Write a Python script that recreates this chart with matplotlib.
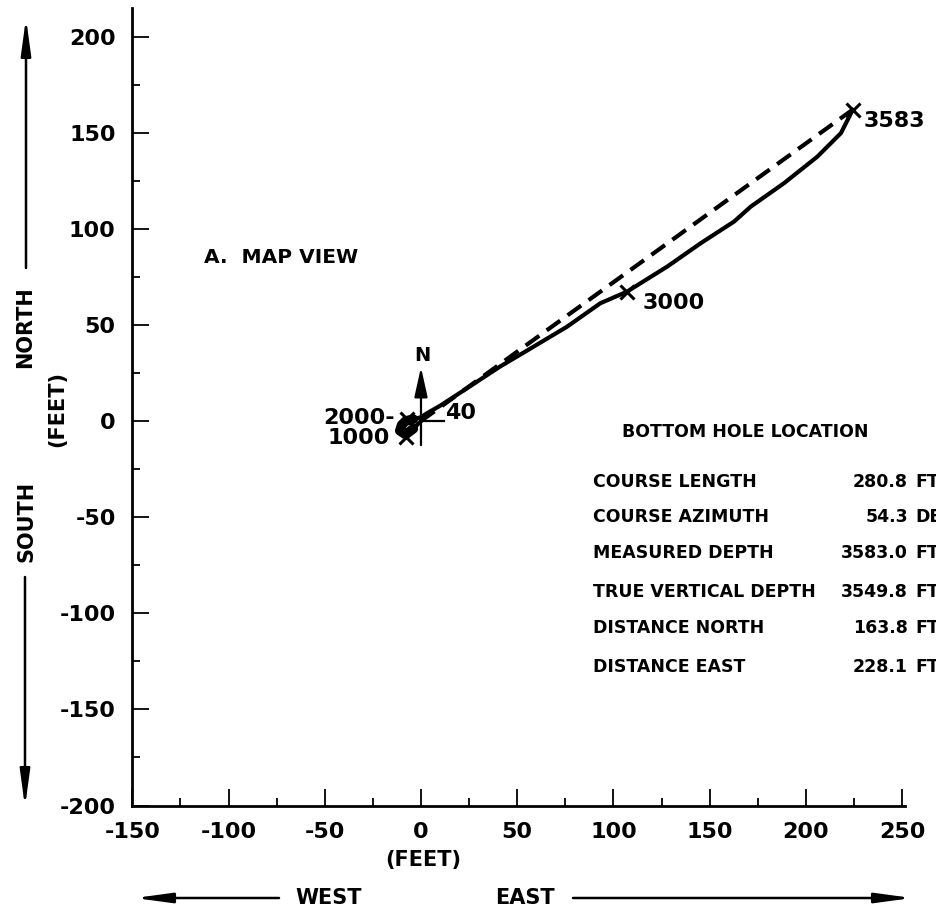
import numpy as np
import matplotlib
matplotlib.use('Agg')
from matplotlib import pyplot as plt
from matplotlib.ticker import MultipleLocator

plt.rcParams['font.family'] = 'DejaVu Sans'
plt.rcParams['font.weight'] = 'bold'
plt.rcParams['axes.unicode_minus'] = False

# well path (map view), feet east / north of the wellhead
path_east = [0, -4, -8, -11, -10, -8, -4, 0, 3, 10, 23.8, 41, 58.5, 75.9, 93.2,
             107, 128, 145.3, 162.7, 171.4, 188.7, 206, 218.2, 222.6, 224.3]
path_north = [0, -4, -7, -5, -2, 0, 1, 2, 4, 8, 17, 28.3, 38.7, 49.1, 61.3,
              67.3, 80.4, 92.5, 103.8, 111.6, 123.8, 137.6, 149.8, 158.5, 162]

# straight course line from the wellhead to the bottom hole
course_east = [0, 224.3]
course_north = [0, 162]

# depth marks along the path
mark_depth = ['1000', '2000', '3000', '3583']
mark_east = [-7.8, -7.4, 107, 224.3]
mark_north = [-8.2, 0.9, 67.3, 162]

# bottom hole table
bh_names = ['COURSE LENGTH', 'COURSE AZIMUTH', 'MEASURED DEPTH',
            'TRUE VERTICAL DEPTH', 'DISTANCE NORTH', 'DISTANCE EAST']
bh_values = ['280.8', '54.3', '3583.0', '3549.8', '163.8', '228.1']
bh_units = ['FT', 'DEG', 'FT', 'FT', 'FT', 'FT']

W, H = 936, 916
fig = plt.figure(figsize=(W / 100, H / 100), dpi=100)
ax = fig.add_axes([132.3 / W, 1 - 805.5 / H, (905 - 132.3) / W, (805.5 - 8) / H])

ax.plot(path_east, path_north, color='black', lw=3, solid_capstyle='round')
ax.plot(path_east[1:7], path_north[1:7], color='black', lw=7, solid_capstyle='round')
ax.plot(course_east, course_north, color='black', lw=3, dashes=(4, 2.2))
ax.plot(mark_east, mark_north, ls='none', marker='x', ms=10, mew=2.2, color='black')

# depth labels
ax.text(-13.5, 1.4, mark_depth[1] + '-', ha='right', va='center', fontsize=16)
ax.text(-16, -9, mark_depth[0], ha='right', va='center', fontsize=16)
ax.text(115, 61.5, mark_depth[2], ha='left', va='center', fontsize=16)
ax.text(230, 156, mark_depth[3], ha='left', va='center', fontsize=16, clip_on=False)

# north arrow at the wellhead
ax.annotate('', xy=(0, 28), xytext=(0, -12.5),
            arrowprops=dict(arrowstyle='-|>,head_length=0.9,head_width=0.2',
                            color='black', lw=1.6, mutation_scale=20,
                            shrinkA=0, shrinkB=0))
ax.plot([0, 11.8], [0, 0], color='black', lw=1.6)
ax.text(0.5, 34, 'N', ha='center', va='center', fontsize=14)
ax.text(12.5, 4, '40', ha='left', va='center', fontsize=16)

ax.text(-112.5, 85, 'A.  MAP VIEW', ha='left', va='center', fontsize=14.5)

# bottom hole location block
px_y = lambda p: (421 - p) / 1.922
ax.text(104.3, px_y(431.7), 'BOTTOM HOLE LOCATION', ha='left', va='center', fontsize=12.5)
row_y = [481.7, 516.7, 553.3, 591.7, 628.3, 666.7]
for name, val, unit, py in zip(bh_names, bh_values, bh_units, row_y):
    ax.text(89.6, px_y(py), name, ha='left', va='center', fontsize=12.5)
    ax.text(253, px_y(py), val, ha='right', va='center', fontsize=12.5, clip_on=False)
    ax.text(256.8, px_y(py), unit, ha='left', va='center', fontsize=12.5, clip_on=False)

ax.set_xlim(-150, 251.5)
ax.set_ylim(-200, 214.9)
ax.xaxis.set_major_locator(MultipleLocator(50))
ax.xaxis.set_minor_locator(MultipleLocator(25))
ax.yaxis.set_major_locator(MultipleLocator(50))
ax.yaxis.set_minor_locator(MultipleLocator(25))
ax.tick_params(which='both', direction='in', width=1.3, labelsize=16, pad=12)
ax.tick_params(which='major', length=12)
ax.tick_params(which='minor', length=6)
for lab in ax.get_xticklabels() + ax.get_yticklabels():
    lab.set_fontweight('bold')
ax.spines['top'].set_visible(False)
ax.spines['right'].set_visible(False)
ax.spines['left'].set_linewidth(2)
ax.spines['bottom'].set_linewidth(2)

# outer axis captions and direction arrows (figure pixels)
fx = lambda p: p / W
fy = lambda p: 1 - p / H
arrow = dict(arrowstyle='-|>,head_length=1.1,head_width=0.15', color='black',
             lw=1.8, mutation_scale=20, shrinkA=0, shrinkB=0)
fig.text(fx(25), fy(327), 'NORTH', rotation=90, ha='center', va='center', fontsize=15)
fig.text(fx(26), fy(521), 'SOUTH', rotation=90, ha='center', va='center', fontsize=15)
fig.text(fx(57), fy(409), '(FEET)', rotation=90, ha='center', va='center', fontsize=15)
ax.annotate('', xy=(fx(26), fy(18)), xytext=(fx(26), fy(268)),
            xycoords='figure fraction', textcoords='figure fraction', arrowprops=arrow)
ax.annotate('', xy=(fx(25), fy(807)), xytext=(fx(25), fy(577)),
            xycoords='figure fraction', textcoords='figure fraction', arrowprops=arrow)

fig.text(fx(423), fy(860), '(FEET)', ha='center', va='center', fontsize=15)
fig.text(fx(329), fy(898), 'WEST', ha='center', va='center', fontsize=15)
fig.text(fx(525), fy(898), 'EAST', ha='center', va='center', fontsize=15)
ax.annotate('', xy=(fx(135), fy(898)), xytext=(fx(279), fy(898)),
            xycoords='figure fraction', textcoords='figure fraction', arrowprops=arrow)
ax.annotate('', xy=(fx(912), fy(898)), xytext=(fx(573), fy(898)),
            xycoords='figure fraction', textcoords='figure fraction', arrowprops=arrow)

fig.savefig('out.png', dpi=100)
